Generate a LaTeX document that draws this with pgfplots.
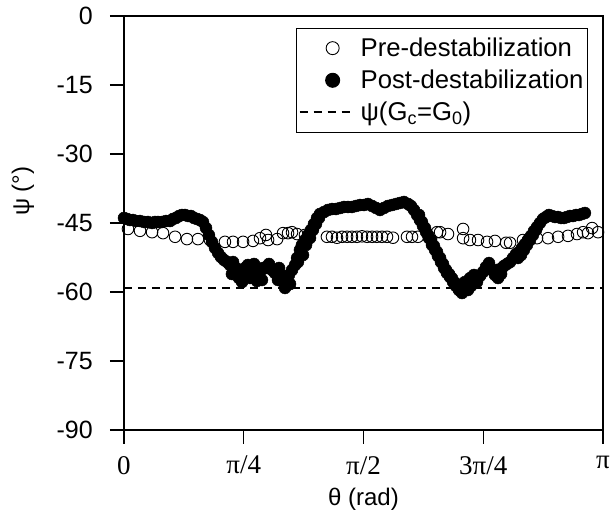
\documentclass[border=0pt]{standalone}
\usepackage{fontspec}
\setmainfont{Liberation Sans}
\newfontfamily\serifx{Liberation Serif}
\usepackage{pgfplots}
\usepackage{pgfplotstable}
\pgfplotsset{compat=1.18}
\pgfplotsset{
  markleg/.style={legend image code/.code={\path[draw=none,fill=none] (0pt,-1pt) rectangle (59pt,1pt);\draw[mark repeat=2,mark phase=2,##1] plot coordinates {(0pt,0pt) (33pt,0pt) (53pt,0pt)};}},
  lineleg/.style={legend image code/.code={\path[draw=none,fill=none] (0pt,-1pt) rectangle (59pt,1pt);\draw[##1] (0pt,0pt) -- (53pt,0pt);}},
}

\pgfplotstableread{
x y
0.026 -46.3
0.105 -46.7
0.184 -47.0
0.256 -47.2
0.335 -48.0
0.413 -48.5
0.485 -48.5
0.564 -48.7
0.662 -49.1
0.715 -49.1
0.781 -49.1
0.846 -48.9
0.892 -48.3
0.931 -47.6
0.945 -48.7
1.004 -48.5
1.043 -47.2
1.076 -47.2
1.102 -47.0
1.135 -47.4
1.187 -47.6
1.331 -48.0
1.364 -48.0
1.397 -48.2
1.430 -48.0
1.463 -48.0
1.495 -48.0
1.528 -48.0
1.561 -47.9
1.594 -48.0
1.627 -48.0
1.659 -48.0
1.692 -48.0
1.725 -48.0
1.764 -48.2
1.856 -48.0
1.889 -48.0
1.928 -48.0
2.053 -47.0
2.073 -47.0
2.125 -47.4
2.224 -46.3
2.224 -48.3
2.269 -48.7
2.322 -48.7
2.381 -49.1
2.433 -48.9
2.506 -49.3
2.532 -49.3
2.617 -48.7
2.650 -48.7
2.709 -48.3
2.781 -48.3
2.847 -48.0
2.912 -47.8
2.971 -47.4
3.011 -47.0
3.043 -47.2
3.070 -46.1
3.109 -47.0
}\pre

\pgfplotstableread{
x y
0.000 -43.91
0.020 -44.13
0.039 -44.35
0.059 -44.35
0.079 -44.57
0.105 -44.57
0.131 -44.78
0.157 -44.78
0.184 -45.00
0.203 -44.78
0.223 -44.78
0.249 -44.78
0.275 -44.57
0.302 -44.57
0.321 -44.13
0.341 -43.91
0.361 -43.48
0.380 -43.26
0.400 -43.26
0.420 -43.48
0.439 -43.48
0.459 -43.91
0.479 -44.13
0.498 -44.35
0.518 -44.78
0.538 -46.09
0.557 -47.61
0.577 -49.13
0.597 -50.43
0.617 -51.52
0.636 -52.39
0.656 -53.04
0.676 -53.48
0.695 -54.13
0.708 -56.09
0.715 -53.48
0.735 -54.78
0.748 -55.22
0.754 -56.96
0.774 -57.83
0.787 -56.30
0.794 -54.78
0.813 -54.13
0.826 -56.96
0.833 -55.22
0.853 -53.91
0.866 -54.78
0.872 -57.61
0.892 -55.65
0.905 -57.39
0.912 -54.78
0.931 -54.78
0.951 -53.91
0.971 -55.22
0.990 -55.87
1.010 -57.39
1.017 -54.78
1.030 -56.30
1.043 -57.83
1.056 -59.13
1.062 -56.96
1.069 -58.48
1.082 -56.30
1.089 -58.26
1.102 -55.22
1.122 -54.13
1.135 -52.61
1.141 -53.48
1.154 -50.87
1.167 -49.78
1.174 -51.96
1.187 -48.70
1.194 -49.78
1.207 -47.61
1.220 -48.26
1.226 -46.52
1.239 -46.52
1.246 -45.22
1.259 -45.22
1.266 -43.91
1.279 -43.91
1.285 -43.04
1.312 -42.61
1.338 -42.17
1.364 -41.96
1.390 -41.96
1.417 -41.74
1.443 -41.52
1.469 -41.52
1.495 -41.52
1.522 -41.30
1.548 -41.09
1.574 -41.09
1.600 -40.87
1.627 -41.30
1.653 -41.74
1.679 -42.17
1.705 -41.74
1.731 -41.30
1.758 -41.09
1.784 -40.87
1.810 -40.65
1.836 -40.43
1.863 -40.87
1.882 -41.30
1.902 -42.17
1.922 -43.26
1.935 -43.26
1.941 -44.35
1.954 -44.78
1.961 -45.65
1.974 -46.09
1.981 -46.96
1.994 -47.61
2.000 -48.26
2.014 -48.70
2.020 -49.78
2.033 -50.00
2.040 -50.87
2.053 -51.30
2.059 -52.17
2.073 -52.60
2.079 -53.48
2.092 -53.90
2.099 -54.78
2.112 -55.20
2.118 -55.87
2.132 -56.10
2.138 -56.74
2.151 -57.00
2.158 -57.83
2.171 -58.00
2.177 -58.70
2.191 -58.70
2.197 -59.57
2.217 -60.22
2.236 -57.83
2.256 -59.57
2.269 -57.00
2.276 -58.70
2.295 -56.30
2.315 -57.83
2.335 -56.52
2.355 -55.65
2.374 -54.57
2.394 -53.70
2.414 -55.22
2.433 -56.30
2.446 -55.20
2.453 -56.96
2.473 -56.09
2.479 -54.80
2.492 -54.35
2.512 -53.91
2.532 -53.48
2.551 -52.61
2.571 -51.74
2.584 -52.60
2.591 -51.30
2.604 -51.96
2.610 -50.43
2.623 -50.87
2.630 -49.57
2.643 -49.78
2.650 -48.70
2.663 -48.70
2.669 -47.83
2.682 -47.61
2.689 -46.74
2.702 -46.52
2.709 -45.87
2.728 -45.00
2.748 -44.13
2.768 -43.70
2.787 -43.26
2.807 -43.48
2.827 -43.70
2.846 -43.70
2.866 -43.91
2.886 -43.91
2.905 -43.70
2.925 -43.48
2.945 -43.48
2.965 -43.26
2.984 -43.26
3.004 -43.04
3.023 -42.83
}\post

\begin{document}
\begin{tikzpicture}
\begin{axis}[
  scale only axis, width=479pt, height=414pt,
  xmin=0, xmax=3.14159, ymin=-90, ymax=0,
  xtick={0,0.785398,1.570796,2.356194,3.14159},
  xticklabels={0,π/4,π/2,3π/4,π},
  ytick={-90,-75,-60,-45,-30,-15,0},
  xtick pos=left, ytick pos=left,
  tick align=outside,
  major tick length=14pt,
  axis line style={line width=1.5pt},
  every tick/.style={black, line width=1.5pt},
  /pgf/number format/assume math mode=true,
  yticklabel style={font=\fontsize{25}{25}\selectfont, inner sep=0pt, xshift=-17pt},
  xticklabel style={font=\fontsize{27}{27}\selectfont\serifx, inner sep=0pt, yshift=-12pt},
  xlabel={θ (rad)}, ylabel={ψ (°)},
  every axis x label/.style={at={(rel axis cs:0.5,0)}, anchor=center, yshift=-69pt},
  every axis y label/.style={at={(rel axis cs:0,0.577)}, rotate=90, yshift=101pt, anchor=center},
  label style={font=\fontsize{24}{24}\selectfont},
  legend style={at={(rel axis cs:0.9687,0.972)}, anchor=north east, draw=black, line width=1pt,
    font=\fontsize{25.7}{30}\selectfont, inner xsep=2pt, inner ysep=8pt, row sep=8pt},
  legend cell align=left,
]
\addlegendimage{only marks, mark=o, mark size=6.5pt, mark options={line width=0.9pt, black}, markleg}
\addlegendentry{Pre-destabilization}
\addlegendimage{only marks, mark=*, mark size=7pt, mark options={black, fill=black}, markleg}
\addlegendentry{Post-destabilization}
\addlegendimage{black, line width=1.8pt, dash pattern=on 8pt off 6pt, lineleg}
\addlegendentry{ψ(G\textsubscript{c}=G\textsubscript{0})}

\addplot[forget plot, black, line width=1.8pt, dash pattern=on 8pt off 6pt] coordinates {(0,-59.2) (3.14159,-59.2)};
\addplot[forget plot, only marks, mark=*, mark size=6pt, mark options={black, fill=black}] table {\post};
\addplot[forget plot, only marks, mark=o, mark size=5.8pt, mark options={line width=0.9pt, black}] table {\pre};
\end{axis}
\pgfresetboundingbox
\path ([xshift=-124pt,yshift=-91pt]current axis.south west) rectangle ([xshift=8pt,yshift=16pt]current axis.north east);
\end{tikzpicture}
\end{document}
